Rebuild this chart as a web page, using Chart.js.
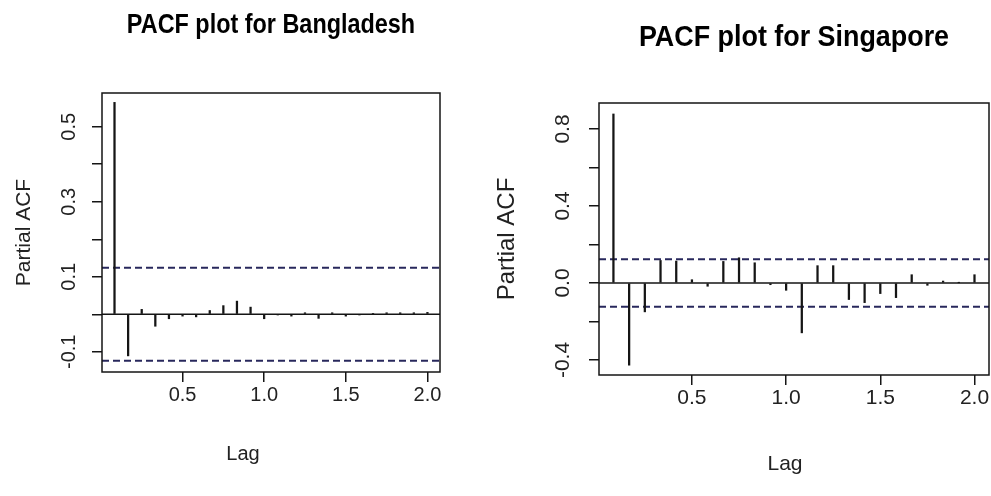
<!DOCTYPE html>
<html>
<head>
<meta charset="utf-8">
<script src="https://cdn.jsdelivr.net/npm/chart.js@4.4.1/dist/chart.umd.min.js"></script>
<style>
  html, body { margin: 0; padding: 0; background: #ffffff; overflow: hidden; }
  #wrap { position: relative; width: 991px; height: 496px; }
  #wrap canvas { position: absolute; left: 0; top: 0; }
</style>
</head>
<body>
<div id="wrap">
  <canvas id="pacfBangladesh" width="991" height="496"></canvas>
  <canvas id="pacfSingapore" width="991" height="496"></canvas>
</div>
<script>
// Lags (in years, monthly data) at which the partial autocorrelation is shown
const lags = [0.0833, 0.1667, 0.25, 0.3333, 0.4167, 0.5, 0.5833, 0.6667, 0.75, 0.8333, 0.9167, 1.0,
              1.0833, 1.1667, 1.25, 1.3333, 1.4167, 1.5, 1.5833, 1.6667, 1.75, 1.8333, 1.9167, 2.0];

// Partial autocorrelations
const bangladesh = [0.565, -0.111, 0.013, -0.032, -0.012, -0.005, -0.007, 0.010, 0.023, 0.035, 0.019, -0.012,
                    -0.002, -0.005, 0.004, -0.011, 0.004, -0.005, -0.001, 0.001, 0.004, 0.004, 0.004, 0.005];
const singapore = [0.878, -0.427, -0.150, 0.117, 0.114, 0.017, -0.017, 0.112, 0.131, 0.105, -0.009, -0.038,
                   -0.259, 0.090, 0.090, -0.086, -0.102, -0.055, -0.076, 0.043, -0.012, 0.010, 0.001, 0.043];

// Approximate 95% significance bounds
const bangladeshBound = 0.124;
const singaporeBound = 0.123;

// Axis ticks
const lagTicks = [0.5, 1.0, 1.5, 2.0];
const lagTickLabels = ['0.5', '1.0', '1.5', '2.0'];
const bangladeshYTicks = [-0.1, 0.0, 0.1, 0.2, 0.3, 0.4, 0.5];
const bangladeshYLabels = ['-0.1', '', '0.1', '', '0.3', '', '0.5'];
const singaporeYTicks = [-0.4, -0.2, 0.0, 0.2, 0.4, 0.6, 0.8];
const singaporeYLabels = ['-0.4', '', '0.0', '', '0.4', '', '0.8'];

const titles = ['PACF plot for Bangladesh', 'PACF plot for Singapore'];
const xAxisTitle = 'Lag';
const yAxisTitle = 'Partial ACF';

const FONT = '"Liberation Sans", Arial, Helvetica, sans-serif';
const INK = '#151515';
const BOUND_COLOR = '#28285c';

// Box drawn around the plotting region
const framePlugin = {
  id: 'frame',
  afterDatasetsDraw(chart) {
    const { ctx, chartArea: a } = chart;
    ctx.save();
    ctx.strokeStyle = INK;
    ctx.lineWidth = 1.5;
    ctx.strokeRect(a.left, a.top, a.right - a.left, a.bottom - a.top);
    ctx.restore();
  }
};

// Panel heading and the lag label, placed relative to the plotting region
const panelTextPlugin = {
  id: 'panelText',
  afterDraw(chart, args, opts) {
    if (!opts) return;
    const { ctx, chartArea: a } = chart;
    const cx = (a.left + a.right) / 2;
    ctx.save();
    ctx.textAlign = 'center';
    ctx.textBaseline = 'alphabetic';

    ctx.save();
    ctx.font = 'bold ' + opts.titleSize + 'px ' + FONT;
    ctx.fillStyle = '#000';
    ctx.translate(cx, opts.titleBaseline);
    ctx.scale(opts.condense, 1);
    ctx.fillText(opts.title, 0, 0);
    ctx.restore();

    ctx.font = opts.xLabelSize + 'px ' + FONT;
    ctx.fillStyle = '#222';
    ctx.fillText(xAxisTitle, cx + opts.xLabelShift, opts.xLabelBaseline);
    ctx.restore();
  }
};

function makePanel(p) {
  const xMin = 0.0067, xMax = 2.077;
  const boundLine = (v) => ({
    type: 'line',
    data: [{ x: xMin, y: v }, { x: xMax, y: v }],
    borderColor: BOUND_COLOR,
    borderWidth: 2,
    borderDash: [7, 4],
    pointRadius: 0,
    fill: false,
    order: 2
  });
  return new Chart(document.getElementById(p.canvas), {
    type: 'bar',
    data: {
      datasets: [
        boundLine(p.bound),
        boundLine(-p.bound),
        {
          type: 'line',
          data: [{ x: xMin, y: 0 }, { x: xMax, y: 0 }],
          borderColor: INK,
          borderWidth: 1.4,
          pointRadius: 0,
          fill: false,
          order: 1
        },
        {
          type: 'bar',
          data: lags.map((l, i) => ({ x: l, y: p.values[i] })),
          backgroundColor: INK,
          barThickness: 1.6,
          grouped: false,
          order: 0
        }
      ]
    },
    options: {
      responsive: false,
      animation: false,
      events: [],
      layout: { padding: p.padding },
      plugins: {
        legend: { display: false },
        tooltip: { enabled: false },
        title: { display: false },
        panelText: p.text
      },
      scales: {
        x: {
          type: 'linear',
          min: xMin,
          max: xMax,
          offset: false,
          border: { display: false },
          grid: { offset: false, drawOnChartArea: false, drawTicks: true, tickLength: 10, color: INK, lineWidth: 1.5 },
          afterBuildTicks: (s) => { s.ticks = lagTicks.map((v) => ({ value: v })); },
          afterFit: (s) => { s.height = p.xHeight; },
          ticks: {
            autoSkip: false,
            maxRotation: 0,
            padding: p.xTickPad,
            color: '#222',
            font: { family: FONT, size: p.tickSize },
            callback: (v, i) => lagTickLabels[i]
          }
        },
        y: {
          min: p.yMin,
          max: p.yMax,
          border: { display: false },
          grid: { drawOnChartArea: false, drawTicks: true, tickLength: 10, color: INK, lineWidth: 1.5 },
          afterBuildTicks: (s) => { s.ticks = p.yTicks.map((v) => ({ value: v })); },
          afterFit: (s) => { s.width = p.yWidth; },
          ticks: {
            autoSkip: false,
            minRotation: 90,
            maxRotation: 90,
            crossAlign: 'center',
            padding: p.yTickPad,
            color: '#222',
            font: { family: FONT, size: p.tickSize },
            callback: (v, i) => p.yLabels[i]
          },
          title: {
            display: true,
            text: yAxisTitle,
            color: '#222',
            font: { family: FONT, size: p.axisTitleSize },
            padding: { top: p.yTitlePad, bottom: 0 }
          }
        }
      }
    },
    plugins: [framePlugin, panelTextPlugin]
  });
}

makePanel({
  canvas: 'pacfBangladesh',
  values: bangladesh,
  bound: bangladeshBound,
  yMin: -0.154, yMax: 0.59,
  yTicks: bangladeshYTicks, yLabels: bangladeshYLabels,
  padding: { left: 6, top: 93, right: 551, bottom: 0 },
  yWidth: 96, xHeight: 124,
  tickSize: 20, axisTitleSize: 21,
  xTickPad: 1, yTickPad: 4.8, yTitlePad: 5.4,
  text: { title: titles[0], titleSize: 27, titleBaseline: 33, condense: 0.867,
          xLabelSize: 20, xLabelShift: -28, xLabelBaseline: 460 }
});

makePanel({
  canvas: 'pacfSingapore',
  values: singapore,
  bound: singaporeBound,
  yMin: -0.478, yMax: 0.935,
  yTicks: singaporeYTicks, yLabels: singaporeYLabels,
  padding: { left: 493, top: 103, right: 2, bottom: 0 },
  yWidth: 106, xHeight: 121,
  tickSize: 21, axisTitleSize: 24,
  xTickPad: 1, yTickPad: 7.9, yTitlePad: 0,
  text: { title: titles[1], titleSize: 29, titleBaseline: 46, condense: 0.927,
          xLabelSize: 21, xLabelShift: -9, xLabelBaseline: 470 }
});
</script>
</body>
</html>
